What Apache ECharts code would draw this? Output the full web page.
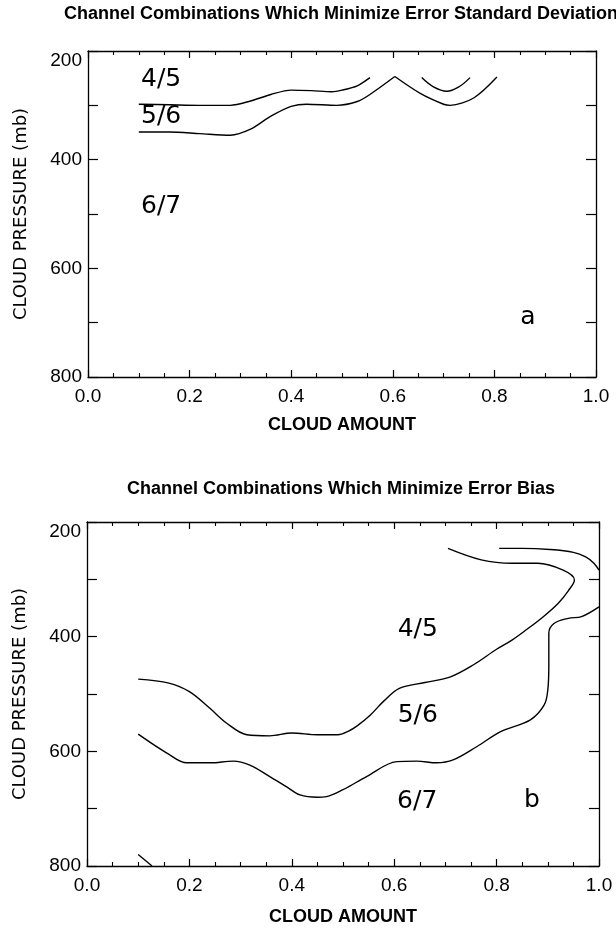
<!DOCTYPE html>
<html>
<head>
<meta charset="utf-8">
<script src="https://cdn.jsdelivr.net/npm/echarts@6/dist/echarts.min.js"></script>
<style>html,body{margin:0;padding:0;background:#fff}#c{width:616px;height:931px}</style>
</head>
<body>
<div id="c"></div>
<script>
// ---------- Titles / axis names ----------
var titleTop = 'Channel Combinations Which Minimize Error Standard Deviation';
var titleBottom = 'Channel Combinations Which Minimize Error Bias';
var xName = 'CLOUD AMOUNT';
var yName = 'CLOUD PRESSURE (mb)';

// ---------- Panel a: curves (cloud amount, cloud pressure mb) ----------
var aCurve1X = [0.10, 0.16, 0.22, 0.28, 0.32, 0.36, 0.40, 0.44, 0.48, 0.50, 0.53, 0.555];
var aCurve1P = [298, 299, 300, 300, 292, 280, 272, 273, 275, 272, 264, 249];
var aCurve2X = [0.10, 0.16, 0.22, 0.28, 0.32, 0.36, 0.40, 0.43, 0.49, 0.53, 0.555, 0.604];
var aCurve2P = [349, 349, 352, 355, 344, 320, 302, 298, 300, 293, 280, 247];
var aCurve3X = [0.604, 0.654, 0.70, 0.713, 0.76, 0.805];
var aCurve3P = [247, 278, 298, 300, 286, 248];
var aCurve4X = [0.657, 0.68, 0.706, 0.73, 0.752];
var aCurve4P = [249, 266, 274, 266, 249];

var aLabelText = ['4/5', '5/6', '6/7', 'a'];
var aLabelX = [0.144, 0.144, 0.144, 0.866];
var aLabelP = [253, 321, 487, 690];

// ---------- Panel b: curves ----------
var bCurve1X = [0.705, 0.77, 0.83, 0.88, 0.93, 0.952, 0.94, 0.92, 0.89, 0.858, 0.83, 0.80, 0.755, 0.71, 0.66, 0.61, 0.58, 0.553, 0.527, 0.51, 0.49, 0.45, 0.40, 0.357, 0.312, 0.273, 0.24, 0.20, 0.16, 0.10];
var bCurve1P = [246, 266, 272, 272, 284, 301, 320, 342, 366, 388, 406, 422, 449, 470, 480, 490, 512, 537, 556, 565, 571, 571, 568, 573, 571, 551, 525, 496, 481, 474];
var bCurve2X = [0.10, 0.156, 0.195, 0.24, 0.286, 0.318, 0.357, 0.39, 0.416, 0.45, 0.468, 0.50, 0.546, 0.605, 0.644, 0.683, 0.715, 0.761, 0.807, 0.866, 0.893, 0.90, 0.902, 0.902, 0.912, 0.94, 0.966, 1.0];
var bCurve2P = [570, 603, 620, 620, 617, 624, 644, 662, 676, 680, 679, 667, 644, 618, 617, 620, 615, 592, 566, 545, 519, 493, 450, 394, 377, 368, 365, 348];
var bCurve3X = [0.805, 0.85, 0.904, 0.95, 0.974, 0.99, 1.0];
var bCurve3P = [246, 246, 248, 253, 261, 272, 284];
var bCurve4X = [0.10, 0.127];
var bCurve4P = [780, 800];

var bLabelText = ['4/5', '5/6', '6/7', 'b'];
var bLabelX = [0.646, 0.646, 0.645, 0.869];
var bLabelP = [387, 537, 688, 685];

// ---------- Axis ticks ----------
var xMin = 0, xMax = 1, xInterval = 0.2;
var pMin = 200, pMax = 800, pTickInterval = 100, pLabelStep = 200;

function zip(xs, ys) { return xs.map(function (x, i) { return [x, ys[i]]; }); }

var ink = '#000';
var fontMain = 'Liberation Sans, Arial, sans-serif';
var fontRound = 'DejaVu Sans, sans-serif';

function xAxes(gi) {
  var base = {
    type: 'value', gridIndex: gi, min: xMin, max: xMax, interval: xInterval,
    splitLine: { show: false },
    axisLine: { show: true, onZero: false, lineStyle: { color: ink, width: 1.3 } },
    axisTick: { show: true, inside: true, length: 7, lineStyle: { color: ink, width: 1.2 } },
    minorTick: { show: true, splitNumber: 4, length: 4, lineStyle: { color: ink, width: 1.1 } }
  };
  var bottom = Object.assign({}, base, {
    position: 'bottom',
    axisLabel: { show: true, margin: 10, color: ink, fontSize: 19, fontFamily: fontMain,
      formatter: function (v) { return v.toFixed(1); } },
    name: xName, nameLocation: 'middle', nameGap: gi === 0 ? 39 : 42,
    nameTextStyle: { color: ink, fontSize: 18, fontWeight: 'bold', fontFamily: fontMain }
  });
  var top = Object.assign({}, base, { position: 'top', axisLabel: { show: false } });
  return [bottom, top];
}

function yAxes(gi) {
  var base = {
    type: 'value', gridIndex: gi, min: pMin, max: pMax, interval: pTickInterval, inverse: true,
    splitLine: { show: false },
    axisLine: { show: true, onZero: false, lineStyle: { color: ink, width: 1.3 } },
    axisTick: { show: true, inside: true, length: 10, lineStyle: { color: ink, width: 1.2 } },
    minorTick: { show: false }
  };
  var left = Object.assign({}, base, {
    position: 'left',
    axisLabel: { show: true, margin: 6, color: ink, fontSize: 19, fontFamily: fontMain,
      verticalAlignMinLabel: 'top',
      formatter: function (v) { return (v % pLabelStep === 0) ? String(v) : ''; } },
    name: yName, nameLocation: 'middle', nameGap: 58, nameRotate: 90,
    nameTextStyle: { color: ink, fontSize: 18, fontFamily: fontRound }
  });
  var right = Object.assign({}, base, { position: 'right', axisLabel: { show: false } });
  return [left, right];
}

function curve(xs, ps, xi, yi, smooth) {
  return {
    type: 'line', xAxisIndex: xi, yAxisIndex: yi, data: zip(xs, ps),
    showSymbol: false, symbol: 'none', smooth: smooth, silent: true,
    lineStyle: { color: ink, width: 1.4 }
  };
}

function labels(texts, xs, ps, xi, yi) {
  return {
    type: 'scatter', xAxisIndex: xi, yAxisIndex: yi, symbolSize: 0, silent: true,
    itemStyle: { opacity: 1, color: ink },
    data: texts.map(function (t, i) { return { value: [xs[i], ps[i]], name: t }; }),
    label: { show: true, position: 'inside', formatter: '{b}', color: ink, opacity: 1,
      fontSize: 25, fontFamily: fontRound, fontWeight: 'normal' }
  };
}

var chart = echarts.init(document.getElementById('c'), null, { renderer: 'canvas' });
chart.setOption({
  backgroundColor: '#fff',
  animation: false,
  title: [
    { text: titleTop, left: 341, top: 5, padding: 0, textAlign: 'center',
      textStyle: { color: ink, fontSize: 18, fontWeight: 'bold', fontFamily: fontMain } },
    { text: titleBottom, left: 341, top: 480, padding: 0, textAlign: 'center',
      textStyle: { color: ink, fontSize: 18, fontWeight: 'bold', fontFamily: fontMain } }
  ],
  grid: [
    { left: 88, width: 508, top: 51, height: 326 },
    { left: 87, width: 512, top: 522, height: 344 }
  ],
  xAxis: xAxes(0).concat(xAxes(1)),
  yAxis: yAxes(0).concat(yAxes(1)),
  series: [
    curve(aCurve1X, aCurve1P, 0, 0, 0.3),
    curve(aCurve2X, aCurve2P, 0, 0, 0.3),
    curve(aCurve3X, aCurve3P, 0, 0, 0.3),
    curve(aCurve4X, aCurve4P, 0, 0, 0.4),
    labels(aLabelText, aLabelX, aLabelP, 0, 0),
    curve(bCurve1X, bCurve1P, 2, 2, 0.35),
    curve(bCurve2X, bCurve2P, 2, 2, 0.35),
    curve(bCurve3X, bCurve3P, 2, 2, 0.35),
    curve(bCurve4X, bCurve4P, 2, 2, false),
    labels(bLabelText, bLabelX, bLabelP, 2, 2)
  ]
});
</script>
</body>
</html>
